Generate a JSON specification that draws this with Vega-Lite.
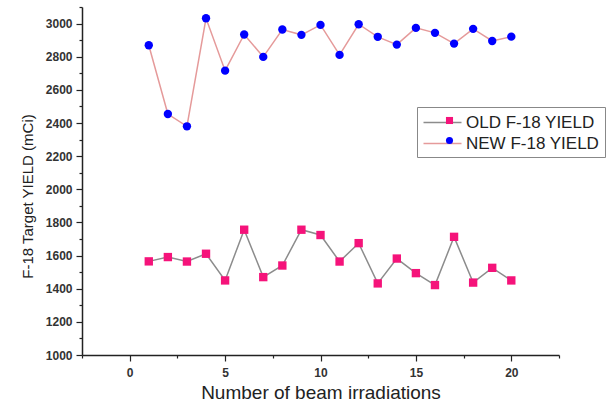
{
  "$schema": "https://vega.github.io/schema/vega-lite/v6.json",
  "width": 477,
  "height": 348,
  "autosize": {"type": "none"},
  "padding": {"left": 82, "top": 7, "right": 49, "bottom": 52},
  "background": "white",
  "config": {
    "view": {"stroke": null},
    "font": "Liberation Sans"
  },
  "data": {
    "values": [
      {"run": 1, "yield": 1565, "series": "OLD F-18 YIELD"},
      {"run": 2, "yield": 1591, "series": "OLD F-18 YIELD"},
      {"run": 3, "yield": 1564, "series": "OLD F-18 YIELD"},
      {"run": 4, "yield": 1611, "series": "OLD F-18 YIELD"},
      {"run": 5, "yield": 1450, "series": "OLD F-18 YIELD"},
      {"run": 6, "yield": 1756, "series": "OLD F-18 YIELD"},
      {"run": 7, "yield": 1470, "series": "OLD F-18 YIELD"},
      {"run": 8, "yield": 1540, "series": "OLD F-18 YIELD"},
      {"run": 9, "yield": 1756, "series": "OLD F-18 YIELD"},
      {"run": 10, "yield": 1724, "series": "OLD F-18 YIELD"},
      {"run": 11, "yield": 1564, "series": "OLD F-18 YIELD"},
      {"run": 12, "yield": 1675, "series": "OLD F-18 YIELD"},
      {"run": 13, "yield": 1432, "series": "OLD F-18 YIELD"},
      {"run": 14, "yield": 1582, "series": "OLD F-18 YIELD"},
      {"run": 15, "yield": 1494, "series": "OLD F-18 YIELD"},
      {"run": 16, "yield": 1422, "series": "OLD F-18 YIELD"},
      {"run": 17, "yield": 1713, "series": "OLD F-18 YIELD"},
      {"run": 18, "yield": 1437, "series": "OLD F-18 YIELD"},
      {"run": 19, "yield": 1526, "series": "OLD F-18 YIELD"},
      {"run": 20, "yield": 1450, "series": "OLD F-18 YIELD"},
      {"run": 1, "yield": 2869, "series": "NEW F-18 YIELD"},
      {"run": 2, "yield": 2454, "series": "NEW F-18 YIELD"},
      {"run": 3, "yield": 2380, "series": "NEW F-18 YIELD"},
      {"run": 4, "yield": 3032, "series": "NEW F-18 YIELD"},
      {"run": 5, "yield": 2716, "series": "NEW F-18 YIELD"},
      {"run": 6, "yield": 2934, "series": "NEW F-18 YIELD"},
      {"run": 7, "yield": 2799, "series": "NEW F-18 YIELD"},
      {"run": 8, "yield": 2964, "series": "NEW F-18 YIELD"},
      {"run": 9, "yield": 2932, "series": "NEW F-18 YIELD"},
      {"run": 10, "yield": 2992, "series": "NEW F-18 YIELD"},
      {"run": 11, "yield": 2811, "series": "NEW F-18 YIELD"},
      {"run": 12, "yield": 2996, "series": "NEW F-18 YIELD"},
      {"run": 13, "yield": 2920, "series": "NEW F-18 YIELD"},
      {"run": 14, "yield": 2873, "series": "NEW F-18 YIELD"},
      {"run": 15, "yield": 2974, "series": "NEW F-18 YIELD"},
      {"run": 16, "yield": 2944, "series": "NEW F-18 YIELD"},
      {"run": 17, "yield": 2879, "series": "NEW F-18 YIELD"},
      {"run": 18, "yield": 2968, "series": "NEW F-18 YIELD"},
      {"run": 19, "yield": 2895, "series": "NEW F-18 YIELD"},
      {"run": 20, "yield": 2921, "series": "NEW F-18 YIELD"}
    ]
  },
  "encoding": {
    "x": {
      "field": "run",
      "type": "quantitative",
      "scale": {"domain": [-2.5, 22.5], "nice": false, "zero": false},
      "axis": {
        "title": "Number of beam irradiations",
        "titleFontSize": 19,
        "titleFontWeight": "normal",
        "titleColor": "#222222",
        "titlePadding": 5,
        "values": [-2.5, 0, 2.5, 5, 7.5, 10, 12.5, 15, 17.5, 20, 22.5],
        "labelExpr": "datum.value % 5 === 0 ? datum.label : ''",
        "tickSize": {"condition": {"test": "datum.value % 5 === 0", "value": 6}, "value": 3},
        "labelFontSize": 12,
        "labelFontWeight": "bold",
        "labelColor": "#333333",
        "labelPadding": 6,
        "domainColor": "#222222",
        "domainWidth": 1.5,
        "tickColor": "#222222",
        "tickWidth": 1.2,
        "grid": false
      }
    },
    "y": {
      "field": "yield",
      "type": "quantitative",
      "scale": {"domain": [1000, 3100], "nice": false, "zero": false},
      "axis": {
        "title": "F-18 Target YIELD (mCi)",
        "titleFontSize": 15,
        "titleFontWeight": "normal",
        "titleColor": "#222222",
        "titlePadding": 10,
        "titleY": 189,
        "values": [1000, 1100, 1200, 1300, 1400, 1500, 1600, 1700, 1800, 1900, 2000, 2100, 2200, 2300, 2400, 2500, 2600, 2700, 2800, 2900, 3000, 3100],
        "labelExpr": "datum.value % 200 === 0 ? datum.label : ''",
        "format": "d",
        "tickSize": {"condition": {"test": "datum.value % 200 === 0", "value": 6}, "value": 3},
        "labelFontSize": 12,
        "labelFontWeight": "bold",
        "labelColor": "#333333",
        "labelPadding": 4,
        "domainColor": "#222222",
        "domainWidth": 1.5,
        "tickColor": "#222222",
        "tickWidth": 1.2,
        "grid": false
      }
    }
  },
  "layer": [
    {
      "mark": {"type": "line", "strokeWidth": 1.5},
      "encoding": {
        "stroke": {
          "field": "series",
          "type": "nominal",
          "scale": {"domain": ["OLD F-18 YIELD", "NEW F-18 YIELD"], "range": ["#8c8c8c", "#e59a9a"]},
          "legend": {
            "title": null,
            "orient": "none",
            "legendX": 335,
            "legendY": 100,
            "symbolType": "M-2,0H2",
            "symbolSize": 361,
            "symbolStrokeWidth": 1.5,
            "symbolOffset": 10,
            "labelFontSize": 17,
            "labelColor": "#222222",
            "labelOffset": 13,
            "padding": 5,
            "rowPadding": 2,
            "strokeColor": "#888888",
            "fillColor": "white"
          }
        }
      }
    },
    {
      "mark": {"type": "point", "filled": true, "size": 70, "opacity": 1},
      "encoding": {
        "fill": {
          "field": "series",
          "type": "nominal",
          "scale": {"domain": ["OLD F-18 YIELD", "NEW F-18 YIELD"], "range": ["#f5137a", "#0000ff"]},
          "legend": {
            "title": null,
            "orient": "none",
            "legendX": 354,
            "legendY": 100,
            "symbolSize": 50,
            "symbolOpacity": 1,
            "labelFontSize": 17,
            "labelExpr": "''",
            "padding": 5,
            "rowPadding": 2
          }
        },
        "shape": {
          "field": "series",
          "type": "nominal",
          "scale": {"domain": ["OLD F-18 YIELD", "NEW F-18 YIELD"], "range": ["square", "circle"]}
        }
      }
    }
  ],
  "resolve": {"legend": {"stroke": "independent", "fill": "independent", "shape": "independent"}}
}
